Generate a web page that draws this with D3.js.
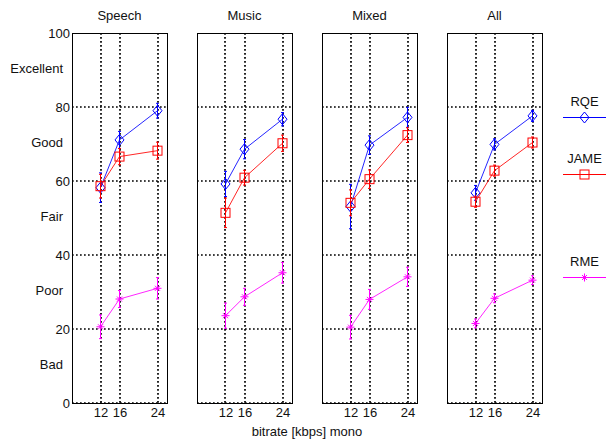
<!DOCTYPE html>
<html>
<head>
<meta charset="utf-8">
<script src="https://cdn.jsdelivr.net/npm/d3@7"></script>
<style>
  body { margin: 0; background: #fff; }
  text { font-family: "Liberation Sans", Arial, sans-serif; font-size: 13px; fill: #111; }
</style>
</head>
<body>
<div id="chart"></div>
<script>
// data
var panels = ['Speech', 'Music', 'Mixed', 'All'];
var bitrates = [12, 16, 24];
var yTicks = [0, 20, 40, 60, 80, 100];
var grades = ['Bad', 'Poor', 'Fair', 'Good', 'Excellent'];
var seriesNames = ['RQE', 'JAME', 'RME'];

var rqeMean = [[58.2, 71.1, 79.0], [59.2, 68.6, 76.7], [53.1, 69.7, 77.2], [56.8, 69.9, 77.6]];
var rqeErr  = [[4.0, 2.3, 2.0], [3.4, 2.6, 1.8], [6.0, 2.5, 2.7], [2.0, 1.5, 1.5]];
var jameMean = [[58.6, 66.6, 68.2], [51.4, 60.9, 70.2], [54.1, 60.5, 72.4], [54.4, 62.8, 70.4]];
var jameErr  = [[3.2, 2.2, 2.3], [4.0, 2.0, 2.2], [3.5, 2.5, 2.0], [1.5, 1.5, 1.5]];
var rmeMean = [[20.6, 28.1, 31.0], [23.6, 28.7, 35.2], [20.5, 28.0, 34.1], [21.5, 28.3, 33.2]];
var rmeErr  = [[3.2, 2.3, 2.9], [3.4, 2.3, 2.8], [3.2, 2.7, 2.6], [1.2, 1.2, 1.2]];

// layout
var W = 608, H = 441;
var panelLeft = 72, panelWidth = 95, panelStep = 125;
var plotTop = 33, plotBottom = 403;
var colors = ['#0000ff', '#ff0000', '#ff00ff'];

var svg = d3.select('#chart')
    .append('svg')
    .attr('width', W)
    .attr('height', H);

var y = d3.scaleLinear().domain([0, 100]).range([plotBottom, plotTop]);

// marker drawing
var drawMarker = function(g, kind, cx, cy, color) {
    if (kind == 0) {
        g.append('path')
            .attr('d', 'M' + cx + ',' + (cy - 5.5) + 'L' + (cx + 4.5) + ',' + cy +
                  'L' + cx + ',' + (cy + 5.5) + 'L' + (cx - 4.5) + ',' + cy + 'Z')
            .style('fill', 'none').style('stroke', color).style('stroke-width', 1);
    } else if (kind == 1) {
        g.append('rect')
            .attr('x', cx - 4.5).attr('y', cy - 4.5)
            .attr('width', 9).attr('height', 9)
            .style('fill', 'none').style('stroke', color).style('stroke-width', 1);
    } else {
        var s = 4, d = 2.5;
        g.append('path')
            .attr('d', 'M' + (cx - s) + ',' + cy + 'H' + (cx + s) +
                  'M' + cx + ',' + (cy - s) + 'V' + (cy + s) +
                  'M' + (cx - d) + ',' + (cy - d) + 'L' + (cx + d) + ',' + (cy + d) +
                  'M' + (cx - d) + ',' + (cy + d) + 'L' + (cx + d) + ',' + (cy - d))
            .style('fill', 'none').style('stroke', color).style('stroke-width', 1);
    }
};

var allMeans = [rqeMean, jameMean, rmeMean];
var allErrs = [rqeErr, jameErr, rmeErr];

panels.forEach(function(name, p) {
    var x0 = panelLeft + p * panelStep;
    var x = d3.scaleLinear().domain([6, 26]).range([x0, x0 + panelWidth]);
    var g = svg.append('g');

    // grid (dotted like matlab's ':')
    bitrates.forEach(function(b) {
        var gx = Math.round(x(b));
        g.append('line')
            .attr('x1', gx).attr('x2', gx)
            .attr('y1', plotTop).attr('y2', plotBottom)
            .style('stroke', '#000').style('stroke-width', 1.7)
            .style('stroke-dasharray', '1.7,2.3');
    });
    yTicks.forEach(function(t) {
        if (t == 100) return;
        var gy = Math.round(y(t));
        g.append('line')
            .attr('x1', x0).attr('x2', x0 + panelWidth)
            .attr('y1', gy).attr('y2', gy)
            .style('stroke', '#000').style('stroke-width', 1.7)
            .style('stroke-dasharray', '1.7,2.3');
    });

    // box
    g.append('rect')
        .attr('x', x0 + 0.5).attr('y', plotTop + 0.5)
        .attr('width', panelWidth).attr('height', plotBottom - plotTop)
        .style('fill', 'none').style('stroke', '#000').style('stroke-width', 1);

    // x ticks
    g.append('g')
        .attr('transform', 'translate(0,' + plotBottom + ')')
        .call(d3.axisBottom(x).tickValues(bitrates).tickSize(0).tickPadding(5))
        .call(function(a) {
            a.select('.domain').remove();
            a.selectAll('text').style('font-size', '13px').style('fill', '#111')
                .style('font-family', '"Liberation Sans", Arial, sans-serif');
        });

    // title
    g.append('text')
        .attr('x', x0 + panelWidth / 2)
        .attr('y', 20)
        .attr('text-anchor', 'middle')
        .text(name);

    // series
    for (var s = 0; s < 3; s++) {
        var means = allMeans[s][p];
        var errs = allErrs[s][p];
        var line = d3.line()
            .x(function(d, i) { return x(bitrates[i]); })
            .y(function(d) { return y(d); });
        g.append('path')
            .datum(means)
            .attr('d', line)
            .style('fill', 'none')
            .style('stroke', colors[s])
            .style('stroke-width', 1)
            .style('opacity', 0.85);
        means.forEach(function(m, i) {
            var cx = x(bitrates[i]);
            g.append('line')
                .attr('x1', cx).attr('x2', cx)
                .attr('y1', y(m - errs[i])).attr('y2', y(m + errs[i]))
                .style('stroke', colors[s]).style('stroke-width', 1);
            [m - errs[i], m + errs[i]].forEach(function(e) {
                g.append('line')
                    .attr('x1', cx - 1.5).attr('x2', cx + 1.5)
                    .attr('y1', y(e)).attr('y2', y(e))
                    .style('stroke', colors[s]).style('stroke-width', 1);
            });
            drawMarker(g, s, cx, y(m), colors[s]);
        });
    }
});

// y axis numbers
yTicks.forEach(function(t) {
    svg.append('text')
        .attr('x', 70)
        .attr('y', y(t))
        .attr('dy', '0.36em')
        .attr('text-anchor', 'end')
        .text(t);
});

// grade labels
grades.forEach(function(gname, i) {
    svg.append('text')
        .attr('x', 63)
        .attr('y', y(10 + i * 20) - 2)
        .attr('dy', '0.36em')
        .attr('text-anchor', 'end')
        .text(gname);
});

// x label
svg.append('text')
    .attr('x', 307)
    .attr('y', 436)
    .attr('text-anchor', 'middle')
    .text('bitrate [kbps] mono');

// legend
var legendY = [117.5, 174.5, 277.5];
var legX1 = 563, legX2 = 606, legC = 584.5;
seriesNames.forEach(function(n, s) {
    svg.append('text')
        .attr('x', legC)
        .attr('y', legendY[s] - 12)
        .attr('text-anchor', 'middle')
        .text(n);
    svg.append('line')
        .attr('x1', legX1).attr('x2', legX2)
        .attr('y1', legendY[s]).attr('y2', legendY[s])
        .style('stroke', colors[s]).style('stroke-width', 1);
    drawMarker(svg, s, legC, legendY[s], colors[s]);
});
</script>
</body>
</html>
